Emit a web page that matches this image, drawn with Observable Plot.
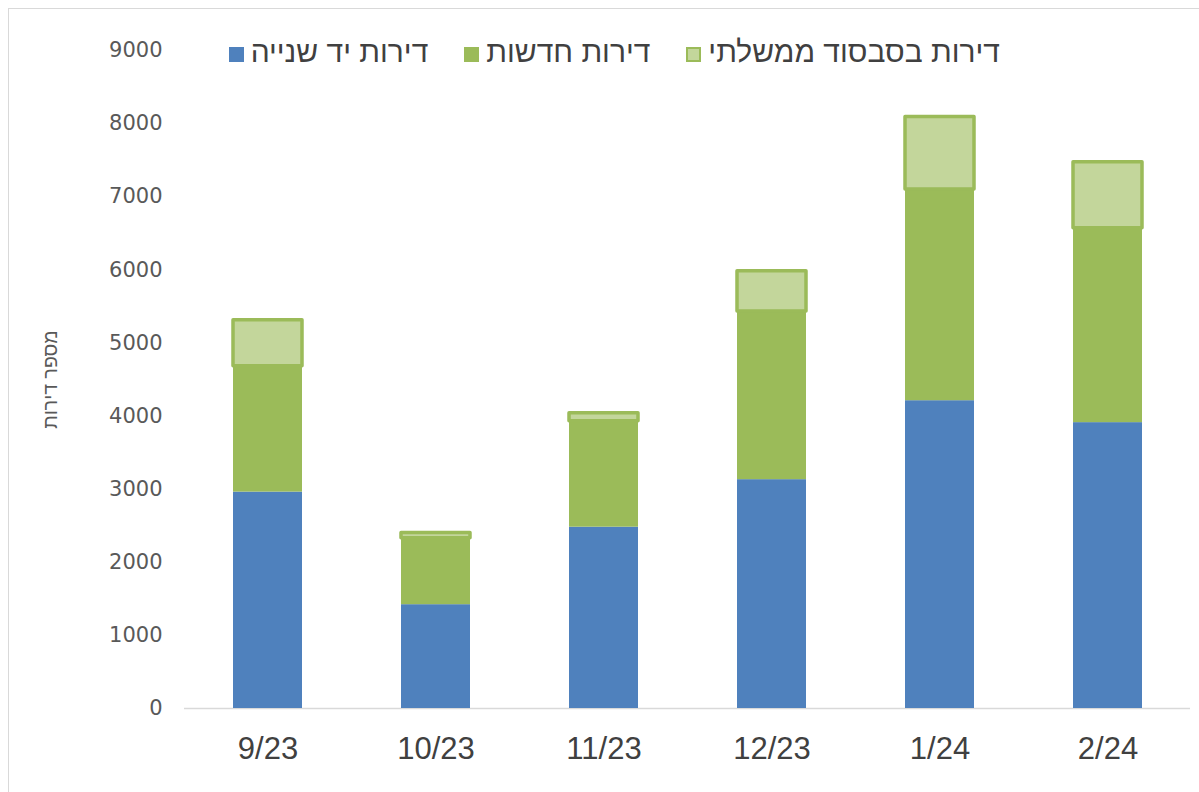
<!DOCTYPE html>
<html><head><meta charset="utf-8">
<script src="https://cdn.jsdelivr.net/npm/d3@7"></script>
<script src="https://cdn.jsdelivr.net/npm/@observablehq/plot@0.6"></script>
<style>
html,body{margin:0;padding:0;background:#fff;overflow:hidden}
#wrap{position:relative;width:1199px;height:792px;font-family:"Liberation Sans",Arial,sans-serif}
#frame{position:absolute;left:8px;top:8px;width:1200px;height:800px;border:1px solid #d9d9d9;box-sizing:border-box;pointer-events:none}
#chart{position:absolute;left:0;top:0}
#legend{position:absolute;top:35px;right:199px;direction:rtl;display:flex;align-items:center;gap:36px;font-size:30px;line-height:34px;color:#404040;white-space:nowrap}
#legend .item{display:flex;align-items:center;gap:7px}
#legend .sw{display:inline-block;width:15px;height:15px;box-sizing:border-box;position:relative;top:2px}
</style></head>
<body>
<div id="wrap"><div id="frame"></div><div id="chart"></div><div id="legend"></div></div>
<script>
const months = ["9/23","10/23","11/23","12/23","1/24","2/24"];
const seriesNames = ["דירות יד שנייה","דירות חדשות","דירות בסבסוד ממשלתי"];
const secondHand = [2960, 1420, 2480, 3130, 4210, 3910];
const newFlats   = [1720,  910, 1450, 2300, 2890, 2660];
const subsidized = [ 630,   70,  110,  550,  990,  900];
const yTicks = [0,1000,2000,3000,4000,5000,6000,7000,8000,9000];
const colors = ["#4F81BD","#9BBB59","#C3D69B"];
const borderColor = "#9BBB59";

const seriesValues = [secondHand, newFlats, subsidized];
const rows = [];
months.forEach((m, i) => {
  seriesValues.forEach((vals, s) => rows.push({month: m, series: seriesNames[s], value: vals[i]}));
});
const topRows = months.map((m, i) => ({month: m, base: secondHand[i] + newFlats[i], top: secondHand[i] + newFlats[i] + subsidized[i]}));

const chart = Plot.plot({
  width: 1199,
  height: 792,
  marginTop: 50,
  marginBottom: 84,
  marginLeft: 184,
  marginRight: 9,
  style: {fontFamily: '"Liberation Sans", Arial, sans-serif', background: "transparent"},
  x: {domain: months, paddingInner: 0.59, paddingOuter: 0.28, label: null},
  y: {domain: [0, 9000], label: null},
  color: {domain: seriesNames, range: colors},
  marks: [
    Plot.ruleY([0], {stroke: "#d9d9d9", strokeWidth: 1.3}),
    Plot.barY(rows, Plot.stackY({x: "month", y: "value", fill: "series"})),
    Plot.barY(topRows, {x: "month", y1: "base", y2: "top", fill: colors[2], stroke: borderColor, strokeWidth: 3.5, strokeLinejoin: "round"}),
    Plot.axisY(yTicks, {tickSize: 0, tickPadding: 22, fontSize: 21, fontFamily: '"DejaVu Sans", sans-serif', fill: "#595959", tickFormat: d => String(d),
      label: null}),
    Plot.axisY({tickSize: 0, ticks: [], label: "מספר דירות", labelAnchor: "center", labelOffset: 141, labelArrow: "none", fontSize: 19.5, fill: "#595959"}),
    Plot.axisX({tickSize: 0, tickPadding: 28, fontSize: 31, fill: "#404040", label: null})
  ]
});
document.getElementById("chart").appendChild(chart);

const legend = document.getElementById("legend");
[2, 1, 0].forEach(s => {
  const it = document.createElement("div");
  it.className = "item";
  const t = document.createElement("span");
  t.textContent = seriesNames[s];
  const sw = document.createElement("span");
  sw.className = "sw";
  sw.style.background = colors[s];
  if (s === 2) sw.style.border = "2.5px solid " + borderColor;
  it.appendChild(t); it.appendChild(sw);
  legend.appendChild(it);
});
</script>
</body></html>
